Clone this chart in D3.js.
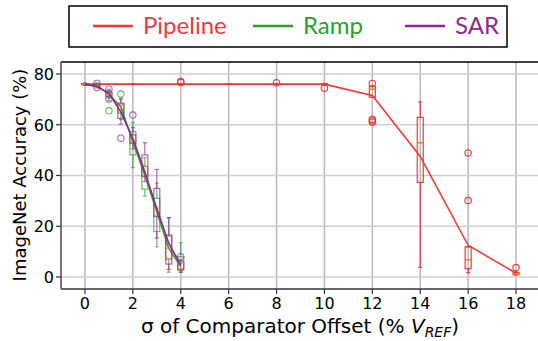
<!DOCTYPE html>
<html><head><meta charset="utf-8">
<script src="https://cdn.jsdelivr.net/npm/d3@7"></script>
<style>html,body{margin:0;padding:0;background:#fff;overflow:hidden}</style>
</head><body>
<svg id="c" width="538" height="341"></svg>
<script>
// ---------- data ----------
const seriesNames = ["Pipeline", "Ramp", "SAR"];
const seriesColors = ["#ea3b3b", "#2ca02c", "#8e2a8e"];
const medianColor = "#ff7f0e";

const xTicks = [0, 2, 4, 6, 8, 10, 12, 14, 16, 18];
const yTicks = [0, 20, 40, 60, 80];

const pipelineX    = [0, 2, 4, 6, 8, 10, 12, 14, 16, 18];
const pipelineMean = [76, 76, 76, 76, 76, 76, 71.5, 47.5, 12.5, 1.5];
const pipelineWlo  = [75.8, 75.8, 75.8, 75.8, 75.8, 75.6, 70.8, 3.8, 1.7, 0.8];
const pipelineQ1   = [75.9, 75.9, 75.9, 75.9, 75.9, 75.8, 70.8, 37.3, 3.3, 0.9];
const pipelineMed  = [76, 76, 76, 76, 76, 76, 74, 52.9, 6.8, 1.2];
const pipelineQ3   = [76.1, 76.1, 76.1, 76.1, 76.1, 76.2, 75, 62.9, 11.9, 1.7];
const pipelineWhi  = [76.2, 76.2, 76.2, 76.2, 76.2, 76.3, 75.4, 69, 11.9, 2.0];
const pipelineOut  = [[], [], [77, 76.7], [], [76.6], [74.4], [76.3, 62.2, 61.6, 61.0], [], [48.9, 30.1], [3.7]];

const rampX    = [0, 0.5, 1, 1.5, 2, 2.5, 3, 3.5, 4];
const rampMean = [76, 75.5, 72, 67, 53.3, 40.2, 25.7, 11.3, 4.1];
const rampWlo  = [75.6, 74.5, 69.5, 62, 43.1, 31.9, 11.9, 1.9, 1.9];
const rampQ1   = [75.8, 75, 71, 64.6, 48.1, 34.6, 17.9, 7.0, 2.8];
const rampMed  = [76, 75.5, 72, 66, 53, 39.8, 24.4, 7.4, 3.4];
const rampQ3   = [76.2, 76, 73, 68.6, 57.3, 43.5, 31, 16.6, 8.0];
const rampWhi  = [76.4, 76.5, 74, 70, 61, 47, 37, 23.4, 13.5];
const rampOut  = [[], [], [65.5], [72.1], [], [], [], [], []];

const sarX    = [0, 0.5, 1, 1.5, 2, 2.5, 3, 3.5, 4];
const sarMean = [76, 75, 72.5, 65, 54.6, 41.5, 27, 13.3, 4.7];
const sarWlo  = [75.6, 75.2, 70.5, 60.2, 50.5, 37.6, 15.3, 3.0, 1.9];
const sarQ1   = [75.8, 75.3, 71.2, 62.5, 52.7, 39.5, 23.8, 5.1, 2.8];
const sarMed  = [76, 75.5, 72, 67.5, 53.7, 43.7, 27.1, 11.3, 5.4];
const sarQ3   = [76.2, 75.7, 72.8, 68.2, 56, 48.1, 34.9, 16.2, 6];
const sarWhi  = [76.4, 75.8, 73.5, 70.5, 58.9, 52.9, 42.4, 23.4, 6.5];
const sarOut  = [[], [76.3, 74.7], [74.1, 70.1], [54.7], [63.8], [], [], [], [8]];

// ---------- build ----------
function build(xs, mean, wlo, q1, med, q3, whi, out) {
  return xs.map((x, i) => ({x, mean: mean[i], wlo: wlo[i], q1: q1[i], med: med[i], q3: q3[i], whi: whi[i], out: out[i]}));
}
const series = [
  {name: seriesNames[0], color: seriesColors[0], boxAlpha: 1, data: build(pipelineX, pipelineMean, pipelineWlo, pipelineQ1, pipelineMed, pipelineQ3, pipelineWhi, pipelineOut)},
  {name: seriesNames[1], color: seriesColors[1], boxAlpha: 0.7, data: build(rampX, rampMean, rampWlo, rampQ1, rampMed, rampQ3, rampWhi, rampOut)},
  {name: seriesNames[2], color: seriesColors[2], boxAlpha: 0.7, data: build(sarX, sarMean, sarWlo, sarQ1, sarMed, sarQ3, sarWhi, sarOut)}
];

const svg = d3.select("#c");
const L = 61, R = 540, T = 62, B = 289;
const x = d3.scaleLinear().domain([-1, 19]).range([L, R]);
const y = d3.scaleLinear().domain([-4.73, 84.73]).range([B, T]);

// grid
const grid = svg.append("g");
grid.selectAll("line.v").data(xTicks).join("line")
  .attr("x1", d => x(d)).attr("x2", d => x(d)).attr("y1", T).attr("y2", B)
  .attr("stroke", "#b8b8b8").attr("stroke-width", 1.5);
grid.selectAll("line.h").data(yTicks).join("line")
  .attr("y1", d => y(d)).attr("y2", d => y(d)).attr("x1", L).attr("x2", R)
  .attr("stroke", "#cfcfcf").attr("stroke-width", 1.5);

// series
const bw = 6, cw = 4;
series.forEach(s => {
  const g = svg.append("g");
  const bx = g.append("g").attr("opacity", s.boxAlpha);
  s.data.forEach(d => {
    const cx = x(d.x);
    bx.append("line").attr("x1", cx).attr("x2", cx).attr("y1", y(d.whi)).attr("y2", y(d.q3)).attr("stroke", s.color).attr("stroke-width", 1.2);
    bx.append("line").attr("x1", cx).attr("x2", cx).attr("y1", y(d.q1)).attr("y2", y(d.wlo)).attr("stroke", s.color).attr("stroke-width", 1.2);
    bx.append("line").attr("x1", cx - cw / 2).attr("x2", cx + cw / 2).attr("y1", y(d.whi)).attr("y2", y(d.whi)).attr("stroke", s.color).attr("stroke-width", 1.2);
    bx.append("line").attr("x1", cx - cw / 2).attr("x2", cx + cw / 2).attr("y1", y(d.wlo)).attr("y2", y(d.wlo)).attr("stroke", s.color).attr("stroke-width", 1.2);
    bx.append("rect").attr("x", cx - bw / 2).attr("y", y(d.q3)).attr("width", bw)
      .attr("height", Math.max(0.5, y(d.q1) - y(d.q3)))
      .attr("fill", "none").attr("stroke", s.color).attr("stroke-width", 1.2);
    bx.append("line").attr("x1", cx - bw / 2).attr("x2", cx + bw / 2).attr("y1", y(d.med)).attr("y2", y(d.med)).attr("stroke", medianColor).attr("stroke-width", 1.6);
    bx.selectAll(null).data(d.out).join("circle")
      .attr("cx", cx).attr("cy", v => y(v)).attr("r", 3.2)
      .attr("fill", "none").attr("stroke", s.color).attr("stroke-width", 1.1);
  });
  g.append("path").datum(s.data)
    .attr("d", d3.line().x(d => x(d.x)).y(d => y(d.mean)))
    .attr("fill", "none").attr("stroke", s.color).attr("stroke-width", 1.6);
});

// spines
svg.append("line").attr("x1", L).attr("x2", R).attr("y1", T).attr("y2", T).attr("stroke", "#000").attr("stroke-width", 1.5);
svg.append("line").attr("x1", L).attr("x2", L).attr("y1", T).attr("y2", B).attr("stroke", "#666").attr("stroke-width", 1.8);
svg.append("line").attr("x1", L).attr("x2", R).attr("y1", B).attr("y2", B).attr("stroke", "#666").attr("stroke-width", 1.8);

// axes ticks
const xa = svg.append("g");
xa.selectAll("line").data(xTicks).join("line")
  .attr("x1", d => x(d)).attr("x2", d => x(d)).attr("y1", B).attr("y2", B + 5)
  .attr("stroke", "#333").attr("stroke-width", 1.2);
xa.selectAll("text").data(xTicks).join("text")
  .attr("x", d => x(d)).attr("y", 309).attr("text-anchor", "middle")
  .attr("font-family", "DejaVu Sans").attr("font-size", 16).attr("fill", "#000")
  .text(d => d);
const ya = svg.append("g");
ya.selectAll("line").data(yTicks).join("line")
  .attr("x1", L - 5).attr("x2", L).attr("y1", d => y(d)).attr("y2", d => y(d))
  .attr("stroke", "#333").attr("stroke-width", 1.2);
ya.selectAll("text").data(yTicks).join("text")
  .attr("x", 54).attr("y", d => y(d)).attr("dy", "0.36em").attr("text-anchor", "end")
  .attr("font-family", "DejaVu Sans").attr("font-size", 16).attr("fill", "#000")
  .text(d => d);

// axis labels
svg.append("text").attr("transform", "translate(26,175) rotate(-90)")
  .attr("text-anchor", "middle").attr("font-family", "DejaVu Sans").attr("font-size", 18).attr("fill", "#000")
  .text("ImageNet Accuracy (%)");
const xl = svg.append("text").attr("x", 300).attr("y", 333).attr("text-anchor", "middle")
  .attr("font-family", "DejaVu Sans").attr("font-size", 20).attr("fill", "#000");
xl.append("tspan").text("σ of Comparator Offset (% ");
xl.append("tspan").attr("font-style", "italic").text("V");
xl.append("tspan").attr("font-style", "italic").attr("font-size", 14).attr("dy", 4).text("REF");
xl.append("tspan").attr("dy", -4).text(")");

// legend
const lg = svg.append("g");
lg.append("rect").attr("x", 69).attr("y", 6).attr("width", 438).attr("height", 41)
  .attr("fill", "#fff").attr("stroke", "#000").attr("stroke-width", 1.5);
const legX = [93, 253, 405];
series.forEach((s, i) => {
  lg.append("line").attr("x1", legX[i]).attr("x2", legX[i] + 40).attr("y1", 26).attr("y2", 26)
    .attr("stroke", s.color).attr("stroke-width", 2.5);
  lg.append("text").attr("x", legX[i] + 50).attr("y", 34)
    .attr("font-family", "Lato").attr("font-size", 24).attr("fill", s.color).text(s.name);
});
</script>
</body></html>
